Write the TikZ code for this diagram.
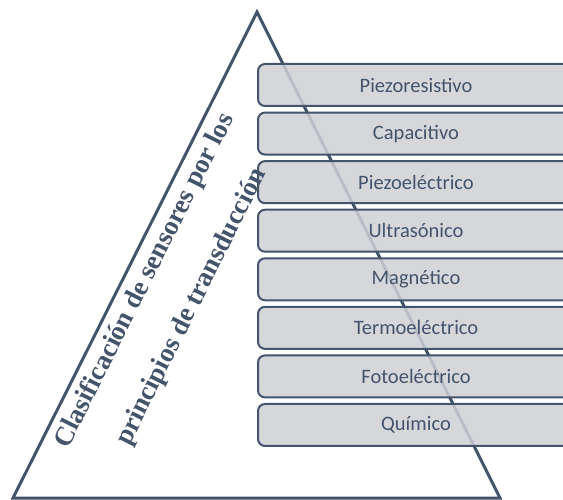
\documentclass[tikz,border=0pt]{standalone}
\usepackage{fontspec}
\setmainfont{Liberation Serif}
\newfontfamily\labelfont{Carlito}
\definecolor{slate}{HTML}{44546A}
\definecolor{boxfill}{RGB}{206,208,213}
\begin{document}
\begin{tikzpicture}[x=1pt,y=-1pt,
  level/.style={draw=slate, line width=2pt, fill=boxfill, fill opacity=0.85,
    text opacity=1, rounded corners=7pt, minimum width=316pt,
    minimum height=42pt, anchor=north west, inner sep=0pt,
    font=\labelfont\fontsize{20.5}{24}\selectfont, text=slate},
  title/.style={rotate=63.4, font=\bfseries\fontsize{27}{32}\selectfont,
    text=slate, inner sep=0pt}]
\useasboundingbox (0,0) rectangle (563,500);
\clip (0,0) rectangle (563,500);
% pyramid outline
\coordinate (apex) at (257,12);
\coordinate (bl) at (13,498);
\coordinate (br) at (500,498);
\draw[slate, line width=3pt, line join=miter] (apex) -- (br) -- (bl) -- cycle;
% transduction principles
\foreach \name/\lab [count=\i from 0] in {
    piezor/Piezoresistivo, capac/Capacitivo, piezoe/Piezoeléctrico,
    ultra/Ultrasónico, magn/Magnético, termo/Termoeléctrico,
    foto/Fotoeléctrico, quim/Químico}
  \node[level] (\name) at (257,{63+48.57*\i}) {\lab};
% title along the left side
\node[title] (t1) at (145,281) {Clasificación de sensores por los};
\node[title] (t2) at (192,307) {principios de transducción};
\end{tikzpicture}
\end{document}
